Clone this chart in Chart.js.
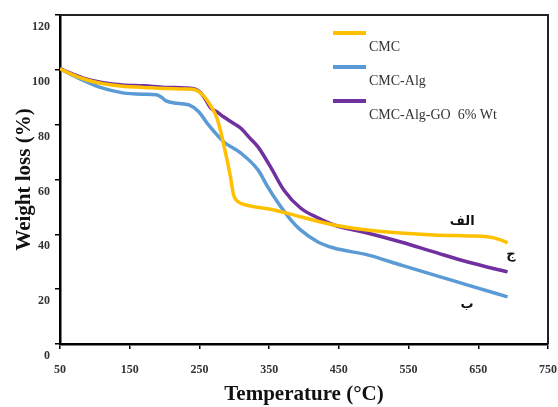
<!DOCTYPE html>
<html>
<head>
<meta charset="utf-8">
<script src="https://cdn.jsdelivr.net/npm/chart.js@4"></script>
<style>
  html, body { margin: 0; padding: 0; background: #fff; }
  #wrap { width: 558px; height: 407px; }
</style>
</head>
<body>
<div id="wrap"><canvas id="tga" width="558" height="407"></canvas></div>
<script>
// values (temperature in °C, weight in %)
const cmcTemp = [50, 70, 90, 110, 140, 170, 200, 230, 245, 256, 266, 275, 281, 288, 294, 299, 306, 317, 357, 395, 443, 491, 539, 586, 635, 663, 682, 692];
const cmcWeight = [100.4, 98.0, 96.2, 95.0, 94.0, 93.6, 93.2, 93.0, 92.6, 90.5, 86.9, 82.5, 77.0, 69.0, 61.7, 54.4, 51.8, 50.7, 48.9, 46.4, 43.4, 41.6, 40.5, 39.8, 39.4, 39.1, 38.0, 36.9];

const algTemp = [50, 70, 91, 110, 140, 170, 188, 195, 202, 218, 235, 249, 263, 285, 309, 334, 348, 362, 381, 395, 420, 443, 491, 539, 586, 635, 692];
const algWeight = [100.4, 97.8, 95.3, 93.4, 91.6, 91.1, 90.9, 90.1, 88.7, 87.8, 87.2, 84.7, 79.9, 73.7, 69.7, 63.5, 57.3, 51.8, 45.3, 41.6, 37.2, 35.0, 32.5, 28.8, 25.2, 21.5, 17.2];

const goTemp = [50, 71, 91, 110, 140, 170, 200, 230, 245, 252, 259, 266, 275, 285, 297, 309, 322, 334, 352, 371, 395, 420, 443, 491, 539, 586, 635, 692];
const goWeight = [100.4, 98.2, 96.4, 95.4, 94.5, 94.2, 93.6, 93.4, 92.9, 91.6, 89.1, 86.1, 84.7, 82.8, 80.8, 78.8, 75.2, 71.9, 64.6, 56.2, 49.6, 46.0, 43.4, 40.5, 37.2, 33.6, 29.9, 26.3];

const seriesNames = ['CMC', 'CMC-Alg', 'CMC-Alg-GO  6% Wt'];
const seriesColors = ['#FFC000', '#5B9BD5', '#7030A0'];

// curve labels (text, temperature, weight)
const curveTags = [
  ['الف', 627, 44.5],
  ['ج', 697, 32.5],
  ['ب', 634, 14.2]
];

const toPoints = (xs, ys) => xs.map((x, i) => ({ x: x, y: ys[i] }));

const frameAndLegend = {
  id: 'frameAndLegend',
  afterDraw(chart) {
    const ctx = chart.ctx;
    const a = chart.chartArea;
    ctx.save();
    // top and right border of the plot box
    ctx.strokeStyle = '#222';
    ctx.lineWidth = 2;
    ctx.beginPath();
    ctx.moveTo(a.left, a.top);
    ctx.lineTo(a.right, a.top);
    ctx.lineTo(a.right, a.bottom);
    ctx.stroke();

    // legend: line sample above, label below-right
    ctx.font = '14px "Liberation Serif"';
    ctx.textBaseline = 'middle';
    ctx.textAlign = 'left';
    chart.data.datasets.forEach((ds, i) => {
      const y = 33 + i * 34;
      ctx.strokeStyle = ds.borderColor;
      ctx.lineWidth = 4;
      ctx.beginPath();
      ctx.moveTo(333, y);
      ctx.lineTo(366, y);
      ctx.stroke();
      ctx.fillStyle = '#333';
      ctx.fillText(ds.label, 369, y + 14);
    });

    // arabic curve tags
    const xs = chart.scales.x, ys = chart.scales.y;
    ctx.font = 'bold 13px "DejaVu Sans"';
    ctx.textAlign = 'center';
    ctx.fillStyle = '#111';
    curveTags.forEach(t => {
      ctx.fillText(t[0], xs.getPixelForValue(t[1]), ys.getPixelForValue(t[2]));
    });
    ctx.restore();
  }
};

const tickFont = { family: 'Liberation Serif', weight: 'bold', size: 12 };
const titleFont = { family: 'Liberation Serif', weight: 'bold', size: 21, lineHeight: 1.2 };

new Chart(document.getElementById('tga'), {
  type: 'line',
  data: {
    datasets: [
      { label: seriesNames[0], data: toPoints(cmcTemp, cmcWeight), borderColor: seriesColors[0] },
      { label: seriesNames[1], data: toPoints(algTemp, algWeight), borderColor: seriesColors[1] },
      { label: seriesNames[2], data: toPoints(goTemp, goWeight), borderColor: seriesColors[2] }
    ]
  },
  options: {
    responsive: false,
    animation: false,
    layout: { padding: { top: 15, right: 10, left: 0, bottom: 0 } },
    elements: {
      point: { radius: 0 },
      line: { borderWidth: 3.5, cubicInterpolationMode: 'monotone', fill: false }
    },
    scales: {
      x: {
        type: 'linear',
        min: 50,
        max: 750,
        afterFit(scale) { scale.height = 63; scale.paddingLeft = 0; scale.paddingRight = 0; },
        ticks: { stepSize: 100, color: '#333', font: tickFont, padding: 14, maxRotation: 0 },
        grid: { drawOnChartArea: false, drawTicks: true, tickLength: 5, color: '#000', lineWidth: 1.5 },
        border: { display: true, color: '#000', width: 2.5 },
        title: { display: true, text: 'Temperature (°C)', color: '#111', font: titleFont, padding: { top: 0, bottom: 0 } }
      },
      y: {
        min: 0,
        max: 120,
        afterFit(scale) { scale.width = 60; scale.paddingTop = 0; scale.paddingBottom = 0; },
        ticks: { stepSize: 20, color: '#333', font: tickFont, padding: 5, labelOffset: 12 },
        grid: { drawOnChartArea: false, drawTicks: true, tickLength: 5, color: '#000', lineWidth: 1.5 },
        border: { display: true, color: '#000', width: 2.5 },
        title: { display: true, text: 'Weight loss (%)', color: '#111', font: titleFont, padding: { top: 12, bottom: 0 } }
      }
    },
    plugins: {
      legend: { display: false },
      tooltip: { enabled: false }
    }
  },
  plugins: [frameAndLegend]
});
</script>
</body>
</html>
